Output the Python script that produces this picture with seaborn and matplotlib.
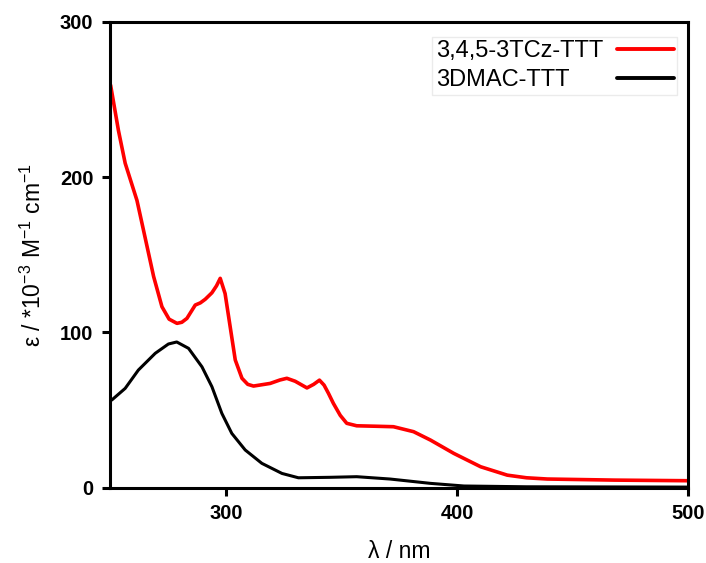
import numpy as np
import pandas as pd
import seaborn as sns
import matplotlib.pyplot as plt

# absorption spectra
wl_tcz = [250.2, 253.6, 256.5, 261.6, 264.4, 268.8, 272.4, 275.5, 278.9, 281.0,
          283.2, 286.8, 289.0, 291.1, 294.0, 296.0, 297.6, 299.7, 301.9, 304.1,
          307.0, 309.5, 312.0, 319.2, 323.4, 326.4, 330.0, 335.1, 338.0, 340.5,
          342.5, 344.4, 346.5, 349.5, 352.3, 356.6, 365.0, 372.5, 381.2, 388.5,
          398.6, 410.2, 421.7, 430.0, 439.0, 468.0, 500.0]
eps_tcz = [259.3, 230.0, 209.0, 185.0, 166.0, 136.0, 116.5, 108.5, 105.8, 106.5,
           109.0, 117.6, 119.0, 121.3, 125.5, 130.0, 134.8, 125.0, 103.6, 82.2,
           70.4, 66.5, 65.4, 67.1, 69.3, 70.4, 68.5, 64.2, 66.5, 69.2,
           66.0, 60.7, 54.3, 46.5, 41.4, 39.8, 39.5, 39.2, 36.0, 30.6,
           22.0, 13.4, 8.0, 6.3, 5.5, 4.8, 4.4]

wl_dmac = [250.7, 256.5, 262.2, 269.5, 275.2, 278.8, 283.9, 289.7, 294.0, 298.3,
           302.6, 308.4, 315.6, 324.3, 331.4, 345.0, 356.6, 371.0, 388.5, 403.0,
           430.0, 500.0]
eps_dmac = [56.4, 63.9, 75.7, 86.5, 92.5, 93.8, 89.7, 77.8, 65.0, 47.8,
            34.9, 24.2, 15.6, 9.1, 6.3, 6.6, 7.0, 5.5, 2.7, 1.0,
            0.5, 0.3]

names = ['3,4,5-3TCz-TTT', '3DMAC-TTT']
colors = ['#ff0000', '#000000']

df = pd.concat([
    pd.DataFrame({'wl': wl_tcz, 'eps': eps_tcz, 'sample': names[0]}),
    pd.DataFrame({'wl': wl_dmac, 'eps': eps_dmac, 'sample': names[1]}),
])

sns.set_style('ticks')
plt.rcParams['font.family'] = ['Liberation Sans', 'DejaVu Sans']
plt.rcParams['mathtext.fontset'] = 'custom'
plt.rcParams['mathtext.rm'] = 'Liberation Sans'
plt.rcParams['text.color'] = 'black'
plt.rcParams['axes.labelcolor'] = 'black'
plt.rcParams['xtick.color'] = 'black'
plt.rcParams['ytick.color'] = 'black'

fig = plt.figure(figsize=(7.06, 5.63), dpi=100)
ax = fig.add_axes([0.156, 0.134, 0.819, 0.827])

sns.lineplot(data=df, x='wl', y='eps', hue='sample', hue_order=names,
             palette=colors, ax=ax, sort=True, estimator=None)
for line, lw in zip(ax.lines, [2.6, 2.2]):
    line.set_linewidth(lw)
    line.set_solid_joinstyle('round')
    line.set_solid_capstyle('round')

ax.set_xlim(250, 500)
ax.set_ylim(0, 300)
ax.set_xticks([300, 400, 500])
ax.set_yticks([0, 100, 200, 300])
for sp in ax.spines.values():
    sp.set_linewidth(2.2)
    sp.set_color('black')
ax.tick_params(direction='out', length=6, width=2.2, labelsize=14.5, pad=6)
for lab in ax.get_xticklabels() + ax.get_yticklabels():
    lab.set_fontweight('bold')

ax.set_xlabel('λ / nm', fontsize=16.5, labelpad=12)
ax.set_ylabel(r'ε / *10$\mathregular{^{-3}}$ M$\mathregular{^{-1}}$ cm$\mathregular{^{-1}}$',
              fontsize=16.5, labelpad=10)

handles, labels = ax.get_legend_handles_labels()
for h in handles:
    h.set_linewidth(2.8)
leg = ax.legend(handles, labels, loc='upper right', bbox_to_anchor=(0.981, 0.968),
                markerfirst=False, fontsize=17, handlelength=2.4,
                handletextpad=0.6, fancybox=False, frameon=True,
                borderaxespad=0, borderpad=0.15, labelspacing=0.3)
leg.get_frame().set_edgecolor('#e6e6e6')
leg.get_frame().set_linewidth(1.0)

# left-align the legend text while keeping the handles on the right
fig.canvas.draw()
renderer = fig.canvas.get_renderer()
col = leg._legend_handle_box.get_children()[0]
rows = col.get_children()
w = max(r.get_bbox(renderer).width for r in rows)
for r in rows:
    r.mode = 'expand'
    r.width = w
col.align = 'left'

fig.savefig('out.png', dpi=100)
